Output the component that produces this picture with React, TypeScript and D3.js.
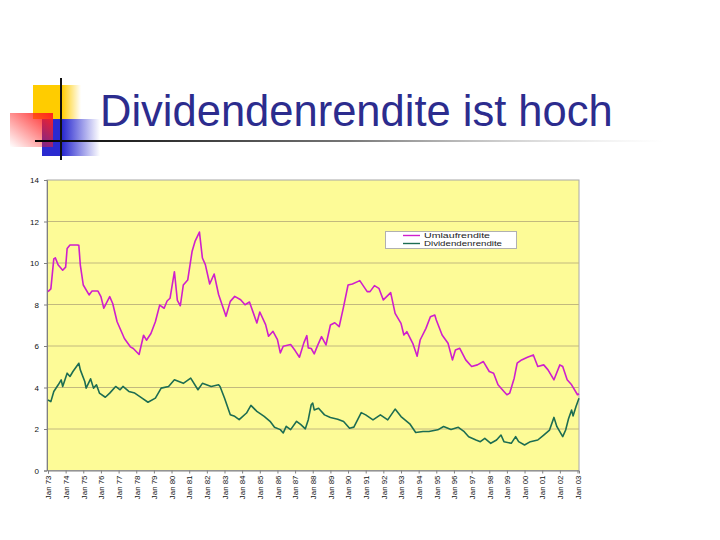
import React, { useEffect, useRef } from 'react'
import * as d3 from 'd3'

// Umlaufrendite (monthly)
const umlaufDates = [
  '1973-01', '1973-03', '1973-05', '1973-06', '1973-08', '1973-11', '1974-01', '1974-02', '1974-04', '1974-09',
  '1974-10', '1974-11', '1975-01', '1975-05', '1975-07', '1975-11', '1976-01', '1976-03', '1976-07', '1976-09',
  '1976-12', '1977-05', '1977-09', '1977-11', '1978-03', '1978-06', '1978-08', '1978-11', '1979-02', '1979-05',
  '1979-08', '1979-10', '1979-12', '1980-03', '1980-05', '1980-07', '1980-09', '1980-12', '1981-03', '1981-05',
  '1981-08', '1981-10', '1981-12', '1982-03', '1982-06', '1982-09', '1983-02', '1983-05', '1983-08', '1983-12',
  '1984-03', '1984-06', '1984-11', '1985-01', '1985-05', '1985-07', '1985-10', '1986-01', '1986-03', '1986-05',
  '1986-10', '1987-01', '1987-04', '1987-07', '1987-09', '1987-10', '1987-12', '1988-02', '1988-04', '1988-07',
  '1988-10', '1989-01', '1989-04', '1989-07', '1989-10', '1990-01', '1990-04', '1990-09', '1991-02', '1991-04',
  '1991-07', '1991-10', '1992-01', '1992-06', '1992-09', '1993-01', '1993-03', '1993-05', '1993-09', '1993-12',
  '1994-02', '1994-06', '1994-09', '1994-12', '1995-01', '1995-05', '1995-09', '1995-12', '1996-02', '1996-05',
  '1996-09', '1997-01', '1997-05', '1997-09', '1998-01', '1998-04', '1998-07', '1998-11', '1999-01', '1999-03',
  '1999-06', '1999-08', '1999-11', '2000-03', '2000-07', '2000-10', '2001-02', '2001-05', '2001-09', '2002-01',
  '2002-03', '2002-06', '2002-09', '2003-01', '2003-02',
]
const umlaufValues = [
  8.62, 8.75, 10.2, 10.25, 9.9, 9.65, 9.8, 10.7, 10.87, 10.87,
  10.85, 9.9, 8.94, 8.46, 8.65, 8.65, 8.38, 7.82, 8.38, 8.05,
  7.17, 6.36, 5.96, 5.88, 5.59, 6.52, 6.28, 6.6, 7.17, 7.97,
  7.82, 8.17, 8.3, 9.58, 8.2, 7.94, 8.94, 9.18, 10.55, 11.04,
  11.49, 10.24, 9.92, 8.99, 9.47, 8.48, 7.43, 8.15, 8.39, 8.23,
  7.99, 8.12, 7.11, 7.64, 7.03, 6.47, 6.71, 6.31, 5.67, 5.99,
  6.07, 5.78, 5.46, 6.15, 6.5, 5.91, 5.88, 5.62, 5.97, 6.45,
  6.05, 7.01, 7.12, 6.93, 7.9, 8.94, 8.99, 9.15, 8.62, 8.62,
  8.91, 8.78, 8.22, 8.57, 7.57, 7.09, 6.53, 6.69, 6.13, 5.51,
  6.29, 6.85, 7.41, 7.49, 7.25, 6.53, 6.13, 5.33, 5.81, 5.89,
  5.33, 5.01, 5.09, 5.25, 4.77, 4.69, 4.13, 3.81, 3.65, 3.73,
  4.45, 5.17, 5.33, 5.46, 5.57, 5.01, 5.09, 4.85, 4.37, 5.09,
  5.01, 4.37, 4.13, 3.65, 3.7,
]

// Dividendenrendite
const dividendDates = [
  '1973-01', '1973-03', '1973-05', '1973-08', '1973-10', '1973-11', '1974-02', '1974-04', '1974-06', '1974-10',
  '1974-11', '1975-02', '1975-03', '1975-06', '1975-08', '1975-10', '1975-12', '1976-04', '1976-07', '1976-11',
  '1977-02', '1977-04', '1977-08', '1977-12', '1978-05', '1978-09', '1979-02', '1979-06', '1979-11', '1980-03',
  '1980-09', '1981-02', '1981-07', '1981-10', '1982-04', '1982-09', '1982-10', '1983-01', '1983-05', '1983-08',
  '1983-11', '1984-04', '1984-07', '1984-11', '1985-04', '1985-08', '1985-11', '1986-03', '1986-05', '1986-07',
  '1986-10', '1987-02', '1987-05', '1987-08', '1987-10', '1987-12', '1988-01', '1988-02', '1988-05', '1988-09',
  '1989-01', '1989-06', '1989-10', '1990-02', '1990-05', '1990-10', '1991-01', '1991-06', '1991-11', '1992-04',
  '1992-09', '1993-01', '1993-07', '1993-11', '1994-04', '1994-08', '1995-02', '1995-06', '1995-11', '1996-04',
  '1996-08', '1996-11', '1997-04', '1997-07', '1997-10', '1998-02', '1998-06', '1998-09', '1998-11', '1999-04',
  '1999-07', '1999-09', '2000-01', '2000-05', '2000-10', '2001-02', '2001-06', '2001-09', '2001-11', '2002-03',
  '2002-05', '2002-07', '2002-09', '2002-10', '2002-12', '2003-02',
]
const dividendValues = [
  3.4, 3.32, 3.81, 4.13, 4.37, 4.05, 4.69, 4.53, 4.77, 5.17,
  4.85, 4.29, 3.97, 4.42, 3.97, 4.13, 3.73, 3.53, 3.73, 4.05,
  3.89, 4.05, 3.81, 3.73, 3.49, 3.29, 3.49, 3.97, 4.05, 4.37,
  4.2, 4.45, 3.89, 4.2, 4.05, 4.13, 4.05, 3.49, 2.69, 2.61,
  2.45, 2.77, 3.14, 2.85, 2.61, 2.37, 2.08, 1.97, 1.81, 2.13,
  1.97, 2.37, 2.21, 2.01, 2.45, 3.17, 3.25, 2.92, 3.0, 2.68,
  2.55, 2.47, 2.36, 2.04, 2.09, 2.79, 2.68, 2.44, 2.68, 2.44,
  2.96, 2.6, 2.25, 1.83, 1.88, 1.88, 1.96, 2.12, 1.98, 2.08,
  1.87, 1.63, 1.47, 1.39, 1.55, 1.31, 1.47, 1.71, 1.39, 1.31,
  1.63, 1.39, 1.23, 1.39, 1.47, 1.71, 1.95, 2.56, 2.11, 1.63,
  1.95, 2.51, 2.91, 2.63, 3.08, 3.48,
]

const yTicks = [0, 2, 4, 6, 8, 10, 12, 14]
const xStart = '1973-01'
const xEnd = '2003-02'
const seriesNames = ['Umlaufrendite', 'Dividendenrendite']
const seriesColors = ['#cf1fcc', '#1d6d52']
const title = 'Dividendenrendite ist hoch'

const parse = d3.timeParse('%Y-%m')

export default function App() {
  const ref = useRef<SVGSVGElement>(null)

  useEffect(() => {
    const svg = d3.select(ref.current)
    svg.selectAll('*').remove()

    const defs = svg.append('defs')
    const grad = (id: string, x2: string, y2: string, stops: [number, string, number][], x1 = '0', y1 = '0') => {
      const g = defs.append('linearGradient').attr('id', id)
        .attr('x1', x1).attr('y1', y1).attr('x2', x2).attr('y2', y2)
      stops.forEach(([o, c, a]) => g.append('stop').attr('offset', o).attr('stop-color', c).attr('stop-opacity', a))
    }
    grad('yel', '1', '0', [[0, '#ffcc00', 1], [0.6, '#ffcc00', 1], [1, '#ffcc00', 0]])
    grad('blu', '1', '0', [[0, '#2a2ad0', 1], [0.35, '#2a2ad0', 1], [1, '#2a2ad0', 0]])
    grad('red', '0', '1', [[0, '#ff2020', 1], [1, '#ff2020', 0]], '1', '0')
    grad('rule', '1', '0', [[0, '#000000', 1], [0.5, '#777777', 1], [1, '#cccccc', 0]])

    // title decoration
    const deco = svg.append('g')
    deco.append('rect').attr('x', 33).attr('y', 85).attr('width', 48).attr('height', 34).attr('fill', 'url(#yel)')
    deco.append('rect').attr('x', 42).attr('y', 119).attr('width', 58).attr('height', 37).attr('fill', 'url(#blu)')
    deco.append('rect').attr('x', 10).attr('y', 113).attr('width', 43).attr('height', 34).attr('fill', 'url(#red)')
    deco.append('rect').attr('x', 35).attr('y', 140).attr('width', 630).attr('height', 2).attr('fill', 'url(#rule)')
    deco.append('rect').attr('x', 60).attr('y', 78).attr('width', 2).attr('height', 82).attr('fill', '#111')

    svg.append('text')
      .attr('x', 100).attr('y', 126)
      .attr('font-family', 'Liberation Sans, Arial, sans-serif')
      .attr('font-size', 43.5)
      .attr('fill', '#2c2c8e')
      .text(title)

    // chart
    const left = 47, right = 579, top = 180, bottom = 470.5
    const x = d3.scaleTime().domain([parse(xStart)!, parse(xEnd)!]).range([48, right])
    const y = d3.scaleLinear().domain([0, 14]).range([bottom, top])

    svg.append('rect')
      .attr('x', left).attr('y', top).attr('width', right - left).attr('height', bottom - top)
      .attr('fill', '#fdfb97').attr('stroke', '#a8a8a8')

    svg.append('g').selectAll('line')
      .data(yTicks.filter(d => d > 0 && d < 14))
      .enter().append('line')
      .attr('x1', left).attr('x2', right)
      .attr('y1', d => y(d)).attr('y2', d => y(d))
      .attr('stroke', '#c2b97e')

    const yAxis = svg.append('g')
      .attr('transform', `translate(${left},0)`)
      .call(d3.axisLeft(y).tickValues(yTicks).tickSize(3).tickPadding(5).tickFormat(d3.format('d')))
    yAxis.selectAll('path, line').attr('stroke', '#808080')
    yAxis.selectAll('text').attr('font-family', 'Arial, Liberation Sans, sans-serif').attr('font-size', 8).attr('fill', '#111')

    const years = d3.timeYear.range(parse(xStart)!, parse(xEnd)!)
    const xAxis = svg.append('g')
      .attr('transform', `translate(0,${bottom})`)
      .call(d3.axisBottom(x).tickValues(years).tickSize(3).tickFormat(d3.timeFormat('%b %y') as any))
    xAxis.selectAll('path, line').attr('stroke', '#808080')
    xAxis.selectAll('text')
      .attr('font-family', 'Arial, Liberation Sans, sans-serif').attr('font-size', 7.9).attr('fill', '#111')
      .attr('transform', 'rotate(-90)')
      .attr('text-anchor', 'end')
      .attr('x', -5).attr('y', 0).attr('dy', '0.35em')

    const series = [
      { dates: umlaufDates, values: umlaufValues },
      { dates: dividendDates, values: dividendValues },
    ]
    const line = d3.line<[Date, number]>().x(d => x(d[0])).y(d => y(d[1]))
    series.forEach((s, i) => {
      const pts = s.dates.map((d, j) => [parse(d)!, s.values[j]] as [Date, number])
      svg.append('path')
        .attr('d', line(pts))
        .attr('fill', 'none')
        .attr('stroke', seriesColors[i])
        .attr('stroke-width', 1.6)
        .attr('stroke-linejoin', 'round')
    })

    // legend
    const lg = svg.append('g')
    lg.append('rect').attr('x', 385.5).attr('y', 231.5).attr('width', 131).attr('height', 17)
      .attr('fill', '#fff').attr('stroke', '#b0b0b0')
    const textLen = [66, 78]
    seriesNames.forEach((name, i) => {
      const yy = 235.5 + i * 8
      lg.append('line').attr('x1', 403).attr('x2', 420).attr('y1', yy).attr('y2', yy)
        .attr('stroke', seriesColors[i]).attr('stroke-width', 1.4)
      lg.append('text').attr('x', 424).attr('y', yy + 2.5)
        .attr('font-family', 'Arial, Liberation Sans, sans-serif').attr('font-size', 7)
        .attr('textLength', textLen[i]).attr('lengthAdjust', 'spacingAndGlyphs')
        .attr('fill', '#222')
        .text(name)
    })
  }, [])

  return (
    <svg ref={ref} width={720} height={540}
      style={{ position: 'absolute', left: 0, top: 0, background: '#fff' }} />
  )
}
